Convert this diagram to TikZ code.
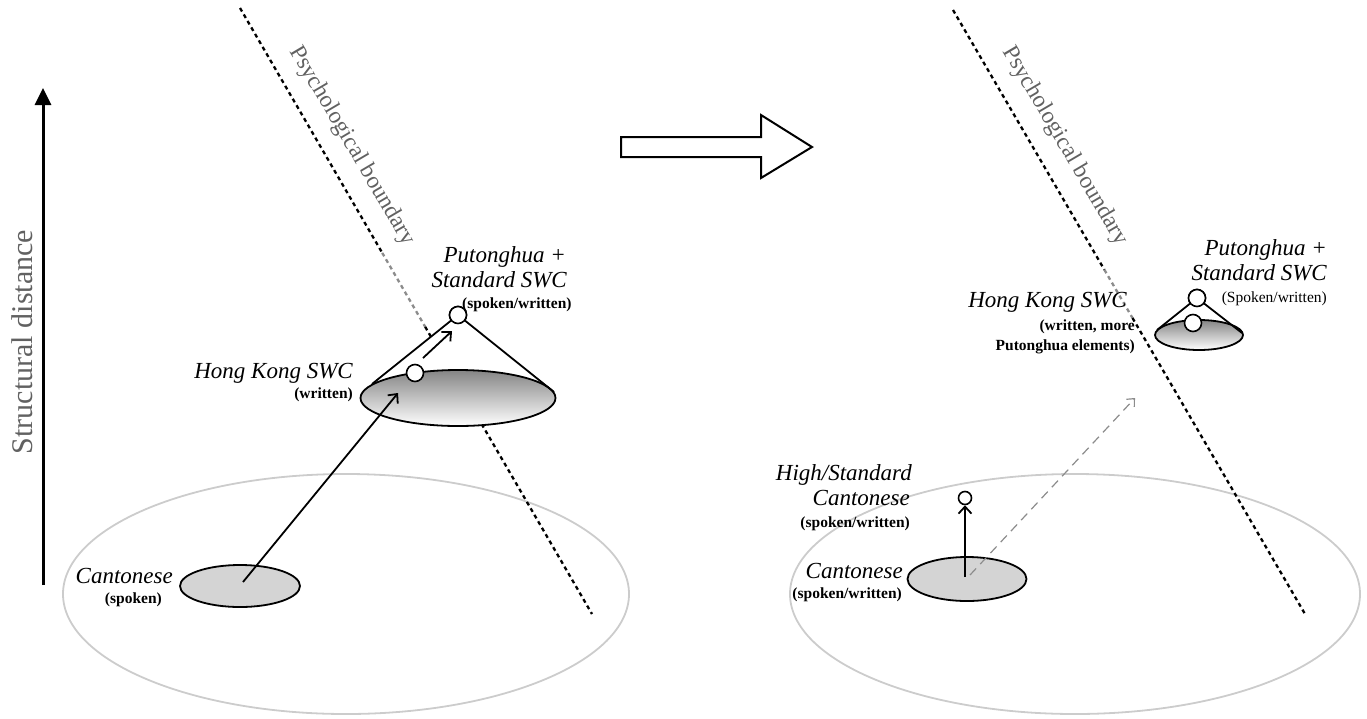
\documentclass[tikz,border=0pt]{standalone}
\usepackage{fontspec}
\setmainfont{Liberation Serif}
\usetikzlibrary{arrows.meta,shapes.geometric,calc}
\begin{document}
\begin{tikzpicture}[x=1pt,y=-1pt,
  bigell/.style={ellipse, draw=black!20, line width=1.8pt, inner sep=0pt},
  lowell/.style={ellipse, draw=black, fill=black!17, line width=1.8pt, inner sep=0pt},
  coneell/.style={ellipse, draw=black, line width=1.8pt, inner sep=0pt, top color=black!48, bottom color=white},
  dot/.style={circle, draw=black, fill=white, line width=1.6pt, inner sep=0pt},
  bound/.style={line width=2.3pt, dash pattern=on 4pt off 3.5pt},
  conel/.style={line width=1.8pt},
  arr/.style={line width=1.8pt, -{Straight Barb[length=7pt,width=13pt,line width=1.8pt]}},
  lab/.style={font=\itshape\fontsize{23}{26}\selectfont, inner sep=0pt},
  sub/.style={font=\bfseries\fontsize{15.5}{18}\selectfont, inner sep=0pt},
  subr/.style={font=\fontsize{15.5}{18}\selectfont, inner sep=0pt},
  axlab/.style={font=\fontsize{30}{34}\selectfont, text=black!62, inner sep=0pt},
  blab/.style={font=\fontsize{23.5}{26}\selectfont, text=black!62, inner sep=0pt, rotate=-59.5}
]
\useasboundingbox (0,0) rectangle (1367,718);

% ---------- vertical axis ----------
\coordinate (axB) at (43,585);
\coordinate (axT) at (43,88);
\draw[line width=3pt, -{Triangle[length=17pt,width=16pt]}] (axB) -- (axT);
\node[axlab, rotate=90] (axtxt) at (22,342) {Structural distance};

% ---------- block arrow ----------
\draw[line width=2pt, fill=white] (621,137) -- (761,137) -- (761,115) -- (812,147)
  -- (761,178) -- (761,157) -- (621,157) -- cycle;

% ================= LEFT PANEL =================
\node[bigell, minimum width=566pt, minimum height=240pt] (bigL) at (346,594) {};

% boundary
\coordinate (dTL) at (240,8);
\coordinate (dBL) at (592,614);
\coordinate (gAL) at ($(dTL)!0.404!(dBL)$);
\coordinate (gBL) at ($(dTL)!0.526!(dBL)$);
\draw[bound] (dTL) -- (gAL);
\draw[bound, black!45] (gAL) -- (gBL);
\draw[bound] (gBL) -- (dBL);
\node[blab] (bndL) at (352,146) {Psychological boundary};

% cone
\coordinate (hkLl) at (372,384);
\coordinate (hkLr) at (554,392);
\node[dot, minimum size=17pt] (ptL) at (458,315) {};
\fill[white] (ptL.center) -- (hkLl) -- (hkLr) -- cycle;
\node[coneell, minimum width=195pt, minimum height=56pt] (hkL) at (458,398) {};
\draw[conel] (ptL.center) -- (hkLl);
\draw[conel] (ptL.center) -- (hkLr);
\node[dot, minimum size=17pt] (ptL) at (458,315) {};
\node[dot, minimum size=17pt] (hkdL) at (415,373) {};

% Cantonese
\node[lowell, minimum width=120pt, minimum height=42pt] (caL) at (240,586) {};
\coordinate (arL1) at (243,582);
\coordinate (arL2) at (398,393);
\draw[arr] (arL1) -- (arL2);
\coordinate (arL3) at (423,358);
\coordinate (arL4) at (452,331);
\draw[arr] (arL3) -- (arL4);

% labels left
\node[lab, anchor=base east] (pL1) at (566,262) {Putonghua +};
\node[lab, anchor=base east] (pL2) at (567,287) {Standard SWC};
\node[sub, anchor=base west] (pL3) at (462,308) {(spoken/written)};
\node[lab, anchor=base east] (hL1) at (353,378) {Hong Kong SWC};
\node[sub, anchor=base east] (hL2) at (353,398) {(written)};
\node[lab, anchor=base east] (cL1) at (173,583) {Cantonese};
\node[sub, anchor=base east] (cL2) at (162,603) {(spoken)};

% ================= RIGHT PANEL =================
\node[bigell, minimum width=570pt, minimum height=240pt] (bigR) at (1075,594) {};

\coordinate (dTR) at (953,10);
\coordinate (dBR) at (1305,614);
\coordinate (gAR) at ($(dTR)!0.43!(dBR)$);
\coordinate (gBR) at ($(dTR)!0.51!(dBR)$);
\draw[bound] (dTR) -- (gAR);
\draw[bound, black!45] (gAR) -- (gBR);
\draw[bound] (gBR) -- (dBR);
\node[blab] (bndR) at (1065,146) {Psychological boundary};

% small cone
\coordinate (hkRl) at (1157,330);
\coordinate (hkRr) at (1242,333);
\node[dot, minimum size=17pt] (ptR) at (1197,298) {};
\fill[white] (ptR.center) -- (hkRl) -- (hkRr) -- cycle;
\node[coneell, minimum width=88pt, minimum height=30pt] (hkR) at (1199,335) {};
\draw[conel] (ptR.center) -- (hkRl);
\draw[conel] (ptR.center) -- (hkRr);
\node[dot, minimum size=17pt] (ptR) at (1197,298) {};
\node[dot, minimum size=17pt] (hkdR) at (1193,323) {};

% Cantonese right
\node[lowell, minimum width=119pt, minimum height=44pt] (caR) at (967,579) {};
\node[dot, minimum size=13pt] (hcR) at (965,498) {};
\coordinate (arR1) at (965,577);
\draw[arr] (arR1) -- (hcR.south);
\coordinate (arR2) at (970,575);
\coordinate (arR3) at (1135,398);
\draw[line width=1.2pt, black!45, dash pattern=on 9pt off 6pt,
  -{Straight Barb[length=6pt,width=11pt,line width=1.2pt]}] (arR2) -- (arR3);

% labels right
\node[lab, anchor=base east] (pR1) at (1327,255) {Putonghua +};
\node[lab, anchor=base east] (pR2) at (1327,280) {Standard SWC};
\node[subr, anchor=base east] (pR3) at (1327,302) {(Spoken/written)};
\node[lab, anchor=base east] (hR1) at (1127,307) {Hong Kong SWC};
\node[sub, anchor=base east] (hR2) at (1135,330) {(written, more};
\node[sub, anchor=base east] (hR3) at (1135,350) {Putonghua elements)};
\node[lab, anchor=base east] (sR1) at (912,480) {High/Standard};
\node[lab, anchor=base east] (sR2) at (910,505) {Cantonese};
\node[sub, anchor=base east] (sR3) at (910,527) {(spoken/written)};
\node[lab, anchor=base east] (cR1) at (903,578) {Cantonese};
\node[sub, anchor=base east] (cR2) at (902,598) {(spoken/written)};
\end{tikzpicture}
\end{document}
